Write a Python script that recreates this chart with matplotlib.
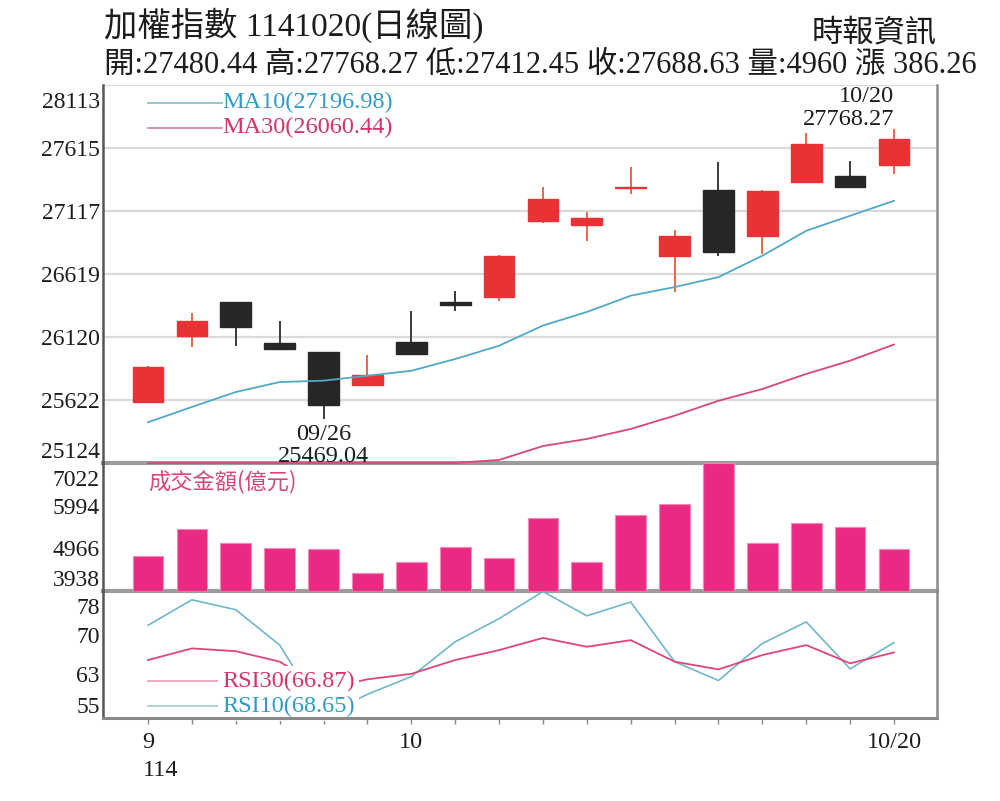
import numpy as np
import matplotlib
matplotlib.use("Agg")
import matplotlib.pyplot as plt
from matplotlib.transforms import ScaledTranslation

# ---------------- data ----------------
dates = ['09/22', '09/23', '09/24', '09/25', '09/26', '09/30', '10/01', '10/02', '10/03',
         '10/07', '10/08', '10/09', '10/13', '10/14', '10/15', '10/16', '10/17', '10/20']
opens = [25604, 26126, 26394, 26073, 25999, 25741, 26078, 26400, 26434,
         27035, 27005, 27300, 26763, 27285, 26916, 27343, 27395, 27480.44]
highs = [25893, 26310, 26400, 26249, 26002, 25978, 26328, 26486, 26770,
         27303, 27111, 27462, 26968, 27506, 27282, 27733, 27514, 27768.27]
lows = [25598, 26039, 26047, 26020, 25469.04, 25735, 25978, 26328, 26407,
        27021, 26881, 27250, 26473, 26763, 26776, 27338, 27298, 27412.45]
closes = [25881, 26249, 26197, 26025, 25585, 25822, 25983, 26374, 26763,
          27211, 27061, 27304, 26921, 26794, 27277, 27646, 27302.37, 27688.63]
ma10 = [25446, 25567, 25685, 25764, 25775, 25814, 25853, 25946, 26051,
        26211, 26318, 26447, 26515, 26594, 26763, 26960, 27079, 27196.98]
ma30 = [24700, 24760, 24820, 24870, 24920, 24975, 25030, 25090, 25148,
        25258, 25314, 25393, 25498, 25616, 25709, 25828, 25933, 26060.44]
volume = [4781, 5425, 5102, 4982, 4950, 4364, 4629, 4991, 4735,
          5689, 4629, 5761, 6034, 7022, 5102, 5584, 5488, 4960]
rsi10 = [71.8, 76.4, 74.6, 68.2, 55.4, 59.3, 62.5, 68.8, 73.0,
         77.9, 73.5, 76.0, 65.2, 61.8, 68.5, 72.4, 63.9, 68.65]
rsi30 = [65.5, 67.6, 67.1, 65.2, 60.3, 62.0, 63.0, 65.5, 67.3,
         69.5, 67.9, 69.1, 65.2, 63.8, 66.4, 68.2, 64.9, 66.87]

price_ticks = [28113, 27615, 27117, 26619, 26120, 25622, 25124]
vol_ticks = [7022, 5994, 4966, 3938]
rsi_ticks = [78, 70, 63, 55]
month_labels = {0: '9', 6: '10', 17: '10/20'}
year_label = '114'

title1 = '加權指數 1141020(日線圖)'
title2 = '開:27480.44 高:27768.27 低:27412.45 收:27688.63 量:4960 漲 386.26'
source = '時報資訊'
vol_title = '成交金額(億元)'
ma10_label = 'MA10(27196.98)'
ma30_label = 'MA30(26060.44)'
rsi30_label = 'RSI30(66.87)'
rsi10_label = 'RSI10(68.65)'

# ---------------- style ----------------
SERIF = ['Liberation Serif', 'Noto Sans CJK TC']
CJK = ['Noto Sans CJK TC', 'Liberation Serif']
RED = '#ea3236'
RED_WICK = '#e8674a'
BLACK = '#262626'
BLACK_WICK = '#3a3a3a'
PINK_BAR = '#ea2a82'
MA10_C = '#4fa9c9'
MA30_C = '#d9467a'
TXT = '#1c1c1c'
SEP = '#9c9c9c'

fig = plt.figure(figsize=(10, 8.01), dpi=100)
L, W = 0.1033, 0.8337
ax_p = fig.add_axes([L, 0.4220, W, 0.4719])
ax_v = fig.add_axes([L, 0.2622, W, 0.1598], sharex=ax_p)
ax_r = fig.add_axes([L, 0.1036, W, 0.1586], sharex=ax_p)

x = np.arange(len(dates))
o = np.array(opens, float)
c = np.array(closes, float)
up = c >= o

# ---- price panel ----
ax_p.set_ylim(price_ticks[-1], price_ticks[0])
for t in price_ticks:
    ax_p.axhline(t, color='#dadada', lw=1.6, zorder=0)
wick_cols = [RED_WICK if u else BLACK_WICK for u in up]
body_cols = [RED if u else BLACK for u in up]
ax_p.vlines(x, lows, highs, colors=wick_cols, lw=1.4, zorder=2)
ax_p.bar(x, np.abs(c - o), bottom=np.minimum(o, c), width=0.7,
         color=body_cols, edgecolor=body_cols, linewidth=1.0, zorder=3)
ax_p.plot(x, ma10, color=MA10_C, lw=1.3, zorder=4)
ax_p.plot(x, np.maximum(ma30, price_ticks[-1]), color=MA30_C, lw=1.3,
          zorder=4, clip_on=False)

# legends
ax_p.plot([0.0536, 0.1425], [0.953, 0.953], transform=ax_p.transAxes,
          color='#7dbdd6', lw=1.2)
ax_p.plot([0.0536, 0.1425], [0.887, 0.887], transform=ax_p.transAxes,
          color='#e07a9c', lw=1.2)
ax_p.text(0.1425, 0.953, ma10_label, transform=ax_p.transAxes, ha='left',
          va='center', color='#2f9cc7', fontsize=17.5, family=SERIF)
ax_p.text(0.1425, 0.887, ma30_label, transform=ax_p.transAxes, ha='left',
          va='center', color='#d6336c', fontsize=17.5, family=SERIF)

i_low = int(np.argmin(lows))
ax_p.annotate(f'{dates[i_low]}\n{lows[i_low]:.2f}', xy=(x[i_low], lows[i_low]),
              xytext=(0, -3), textcoords='offset points', ha='center', va='top',
              fontsize=17.5, family=SERIF, color=TXT, linespacing=1.1,
              annotation_clip=False, zorder=10)
i_high = int(np.argmax(highs))
ax_p.annotate(f'{dates[i_high]}\n{highs[i_high]:.2f}', xy=(x[i_high], highs[i_high]),
              xytext=(0, -1), textcoords='offset points', ha='right', va='bottom',
              fontsize=17.5, family=SERIF, color=TXT, linespacing=1.1,
              multialignment='right', zorder=10)

# ---- volume panel ----
ax_v.set_ylim(vol_ticks[-1], vol_ticks[0])
ax_v.bar(x, np.array(volume) - vol_ticks[-1], bottom=vol_ticks[-1], width=0.7,
         color=PINK_BAR, edgecolor='#f08ab5', linewidth=0.8, zorder=2)
ax_v.text(0.0536, 0.852, vol_title, transform=ax_v.transAxes, ha='left',
          va='center', color='#d9457a', fontsize=16, family=CJK)

# ---- RSI panel ----
ax_r.set_ylim(rsi_ticks[-1], rsi_ticks[0])
ax_r.plot(x, rsi10, color='#70b7cb', lw=1.2, zorder=2)
ax_r.plot(x, rsi30, color='#e0457a', lw=1.3, zorder=2)
ax_r.plot([0.0536, 0.1425], [0.291, 0.291], transform=ax_r.transAxes,
          color='#e89ab4', lw=1.2)
ax_r.plot([0.0536, 0.1425], [0.094, 0.094], transform=ax_r.transAxes,
          color='#9fcad8', lw=1.2)
bb = dict(facecolor='white', edgecolor='none', pad=3.0)
ax_r.text(0.1425, 0.291, rsi30_label, transform=ax_r.transAxes, ha='left',
          va='center', color='#d6336c', fontsize=17.5, family=SERIF, bbox=bb, zorder=5)
ax_r.text(0.1425, 0.094, rsi10_label, transform=ax_r.transAxes, ha='left',
          va='center', color='#2f9cc7', fontsize=17.5, family=SERIF, bbox=bb, zorder=5)

# ---- axes styling ----
ax_p.set_xlim(-1.02, 17.98)
for ax, ticks in ((ax_p, price_ticks), (ax_v, vol_ticks), (ax_r, rsi_ticks)):
    ax.set_yticks(ticks)
    ax.set_yticklabels([str(t) for t in ticks])
    ax.tick_params(axis='y', length=0, pad=2.5, labelsize=17, labelcolor=TXT)
    labs = ax.get_yticklabels()
    for lab in labs:
        lab.set_family(SERIF)
    labs[0].set_va('top')
    labs[0].set_transform(labs[0].get_transform() +
                          ScaledTranslation(0, -5 / 72, fig.dpi_scale_trans))
    labs[-1].set_va('bottom')
    ax.spines['top'].set_visible(False)
    ax.spines['left'].set_color('#555555')
    ax.spines['left'].set_linewidth(1.8)
    ax.spines['left'].set_zorder(8)
    ax.spines['right'].set_color('#8a8a8a')
    ax.spines['right'].set_linewidth(1.8)
    ax.spines['bottom'].set_color(SEP)
    ax.spines['bottom'].set_linewidth(3)
    ax.spines['bottom'].set_zorder(1)
    ax.set_facecolor('none')

for ax in (ax_p, ax_v):
    ax.tick_params(axis='x', bottom=False, labelbottom=False)

ax_r.spines['bottom'].set_linewidth(2.2)
ax_r.spines['bottom'].set_color('#8a8a8a')
ax_r.spines['bottom'].set_zorder(8)
ax_r.set_xticks(x)
ax_r.set_xticklabels([month_labels.get(i, '') for i in x])
ax_r.tick_params(axis='x', length=4, width=1, color='#8a8a8a', pad=6,
                 labelsize=17.5, labelcolor=TXT)
for lab in ax_r.get_xticklabels():
    lab.set_family(SERIF)
ax_r.annotate(year_label, xy=(0, 0), xycoords=('data', 'axes fraction'),
              xytext=(-4, -30), textcoords='offset points', ha='left', va='top',
              fontsize=17.5, family=SERIF, color=TXT, annotation_clip=False)

# ---- titles ----
fig.text(0.104, 0.968, title1, ha='left', va='center', fontsize=24,
         family=SERIF, color=TXT)
fig.text(0.104, 0.919, title2, ha='left', va='center', fontsize=22,
         family=SERIF, color=TXT)
fig.text(0.937, 0.959, source, ha='right', va='center', fontsize=22.5,
         family=CJK, color=TXT)

fig.savefig('out.png', dpi=100, facecolor='white')
